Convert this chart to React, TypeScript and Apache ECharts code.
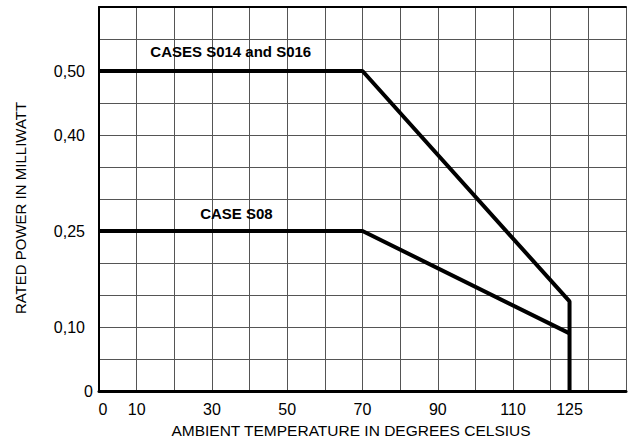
import React, { useEffect, useRef } from "react";
import * as echarts from "echarts";

// ---- data ----
const xMin = 0;
const xMax = 140;
const xStep = 10;
const xLabelValues = [10, 30, 50, 70, 90, 110];
const xExtraLabelValues = [0, 125];

const yMin = 0;
const yMax = 0.6;
const yStep = 0.05;
const yLabelValues = [0.1, 0.25, 0.4, 0.5];
const yLabelTexts = ["0,10", "0,25", "0,40", "0,50"];
const yZeroLabel = "0";

const s014Temp = [0, 70, 125, 125];
const s014Power = [0.5, 0.5, 0.14, 0];
const s08Temp = [0, 70, 125];
const s08Power = [0.25, 0.25, 0.09];

const s014Label = "CASES S014 and S016";
const s014LabelAt = [35, 0.53];
const s08Label = "CASE S08";
const s08LabelAt = [36.5, 0.277];

const xTitle = "AMBIENT TEMPERATURE IN DEGREES CELSIUS";
const yTitle = "RATED POWER IN MILLIWATT";

const FONT = "'Liberation Sans', Arial, Helvetica, sans-serif";

export default function App() {
  const ref = useRef<HTMLDivElement>(null);
  useEffect(() => {
    if (!ref.current) return;
    const chart = echarts.init(ref.current, undefined, { renderer: "svg" });
    const pair = (xs: number[], ys: number[]) => xs.map((x, i) => [x, ys[i]]);
    const labelStyle = { fontFamily: FONT, fontSize: 16, color: "#000" };
    const annot = (text: string, coord: number[]) => ({
      symbol: "circle",
      symbolSize: 0,
      data: [
        {
          coord,
          label: {
            show: true,
            position: "inside",
            formatter: text,
            fontFamily: FONT,
            fontSize: 15,
            fontWeight: "bold",
            color: "#000",
          },
        },
      ],
    });
    chart.setOption({
      animation: false,
      backgroundColor: "#fff",
      grid: { left: 99, top: 7, width: 533, bottom: 51, containLabel: false },
      xAxis: [
        {
          type: "value",
          min: xMin,
          max: xMax,
          interval: xStep,
          position: "bottom",
          axisLine: { show: true, onZero: false, lineStyle: { color: "#000", width: 3 } },
          axisTick: { show: false },
          splitLine: { show: true, lineStyle: { color: "#555", width: 1 } },
          axisLabel: {
            ...labelStyle,
            margin: 10,
            formatter: (v: number) => (xLabelValues.includes(Math.round(v)) ? String(Math.round(v)) : ""),
          },
        },
        {
          type: "value",
          min: xMin,
          max: xMax,
          interval: 5,
          position: "bottom",
          axisLine: { show: false },
          axisTick: { show: false },
          splitLine: { show: false },
          axisLabel: {
            ...labelStyle,
            margin: 10,
            formatter: (v: number) => {
              const r = Math.round(v);
              if (!xExtraLabelValues.includes(r)) return "";
              return r === 0 ? "{z|0}" : String(r);
            },
            rich: {
              z: { fontFamily: FONT, fontSize: 16, color: "#000", padding: [0, 0, 0, 8] },
            },
          },
        },
        {
          type: "value",
          min: xMin,
          max: xMax,
          position: "top",
          axisLine: { show: true, onZero: false, lineStyle: { color: "#000", width: 2 } },
          axisTick: { show: false },
          splitLine: { show: false },
          axisLabel: { show: false },
        },
      ],
      yAxis: [
        {
          type: "value",
          min: yMin,
          max: yMax,
          interval: yStep,
          position: "left",
          axisLine: { show: true, onZero: false, lineStyle: { color: "#000", width: 2 } },
          axisTick: { show: false },
          splitLine: { show: true, lineStyle: { color: "#555", width: 1 } },
          axisLabel: {
            ...labelStyle,
            margin: 14,
            formatter: (v: number) => {
              const k = Math.round(v * 100);
              const idx = yLabelValues.findIndex((y) => Math.round(y * 100) === k);
              return idx >= 0 ? yLabelTexts[idx] : "";
            },
          },
        },
        {
          type: "value",
          min: yMin,
          max: yMax,
          interval: yStep,
          position: "left",
          axisLine: { show: false },
          axisTick: { show: false },
          splitLine: { show: false },
          axisLabel: {
            ...labelStyle,
            margin: 6,
            formatter: (v: number) => (Math.round(v * 100) === 0 ? yZeroLabel : ""),
          },
        },
      ],
      graphic: [
        {
          type: "text",
          x: 351,
          y: 430,
          style: {
            text: xTitle,
            fontFamily: FONT,
            fontSize: 15.5,
            fill: "#000",
            align: "center",
            verticalAlign: "middle",
          },
        },
        {
          type: "text",
          x: 20,
          y: 208,
          rotation: Math.PI / 2,
          style: {
            text: yTitle,
            fontFamily: FONT,
            fontSize: 15,
            fill: "#000",
            align: "center",
            verticalAlign: "middle",
          },
        },
      ],
      series: [
        {
          type: "line",
          xAxisIndex: 0,
          yAxisIndex: 0,
          data: pair(s014Temp, s014Power),
          symbol: "none",
          lineStyle: { color: "#000", width: 4 },
          z: 5,
          markPoint: annot(s014Label, s014LabelAt),
        },
        {
          type: "line",
          xAxisIndex: 0,
          yAxisIndex: 0,
          data: pair(s08Temp, s08Power),
          symbol: "none",
          lineStyle: { color: "#000", width: 4 },
          z: 5,
          markPoint: annot(s08Label, s08LabelAt),
        },
      ],
    });
    return () => chart.dispose();
  }, []);
  return (
    <div
      ref={ref}
      style={{ position: "fixed", left: 0, top: 0, width: 629, height: 442, background: "#fff" }}
    />
  );
}
